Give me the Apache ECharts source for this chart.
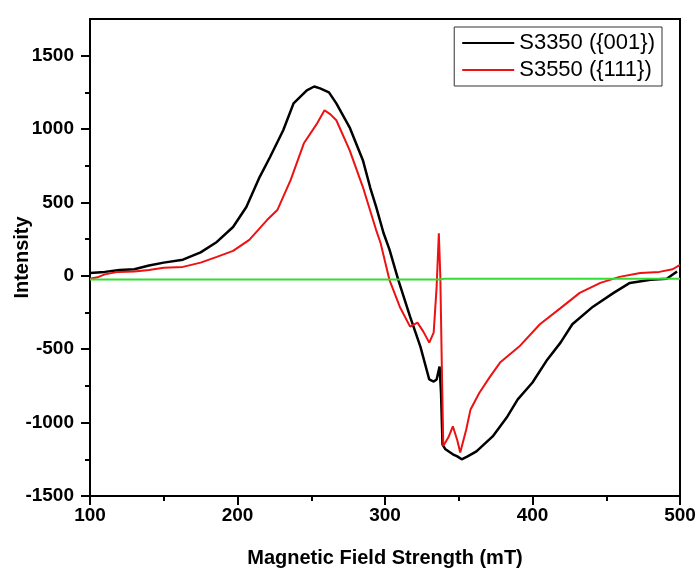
<!DOCTYPE html>
<html>
<head>
<meta charset="utf-8">
<script src="https://cdn.jsdelivr.net/npm/echarts@6/dist/echarts.min.js"></script>
<style>
  html, body { margin: 0; padding: 0; background: #fff; }
  #chartmain { width: 697px; height: 570px; }
</style>
</head>
<body>
<div id="chartmain"></div>
<script>
// S3350 ({001}) - black trace
var fieldBlack = [100, 110, 120, 130, 140, 150, 163, 175, 186, 197, 206, 215, 222, 231, 238, 247, 252, 256, 262, 267, 276, 285, 290, 294, 299, 303, 309, 317, 324, 330, 333, 335, 337, 338, 339, 341, 346, 349, 352, 356, 362, 373, 383, 390, 400, 410, 419, 427, 441, 455, 466, 480, 491, 498];
var intBlack = [20, 27, 40, 45, 70, 90, 110, 160, 231, 333, 469, 673, 808, 992, 1175, 1264, 1290, 1277, 1250, 1175, 1012, 788, 600, 470, 292, 180, -27, -278, -482, -706, -720, -706, -618, -800, -1150, -1182, -1216, -1230, -1250, -1230, -1196, -1094, -958, -842, -727, -571, -455, -330, -210, -116, -48, -27, -20, 30];

// S3550 ({111}) - red trace
var fieldRed = [100, 105, 110, 119, 130, 140, 150, 163, 175, 186, 197, 208, 220, 227, 236, 245, 254, 259, 263, 267, 276, 285, 294, 297, 303, 310, 317, 322, 326, 330, 333, 335, 336.5, 337.5, 338.5, 339.5, 343, 346, 349, 351, 355, 358, 364, 371, 378, 391, 405, 419, 432, 446, 459, 473, 486, 495, 500];
var intRed = [-20, -10, 10, 27, 30, 40, 55, 61, 90, 129, 170, 245, 380, 448, 652, 903, 1039, 1128, 1100, 1060, 856, 605, 312, 224, -27, -210, -346, -319, -380, -455, -387, -75, 290, 0, -600, -1160, -1100, -1025, -1120, -1204, -1050, -910, -797, -690, -591, -482, -330, -220, -116, -48, -7, 20, 27, 45, 75];

// green baseline
var fieldGreen = [100, 337, 340, 500];
var intGreen = [-25, -25, -20, -20];

var yMajor = [-1500, -1000, -500, 0, 500, 1000, 1500];
var yMinor = [-1250, -750, -250, 250, 750, 1250];

function zip(xs, ys) {
  var out = [];
  for (var i = 0; i < xs.length; i++) {
    out.push([xs[i], ys[i]]);
  }
  return out;
}

var font = 'Liberation Sans, Arial, sans-serif';

var option = {
  animation: false,
  backgroundColor: '#fff',
  grid: {
    left: 90, right: 17, top: 19, bottom: 74,
    outerBoundsMode: 'none',
    containLabel: false,
    show: true, borderColor: '#000', borderWidth: 2
  },
  legend: {
    orient: 'vertical',
    right: 35, top: 27,
    data: ['S3350 ({001})', 'S3550 ({111})'],
    icon: 'rect',
    itemWidth: 52, itemHeight: 2,
    itemGap: 5,
    padding: [5, 7, 5, 8],
    borderColor: '#333', borderWidth: 1,
    textStyle: { fontFamily: font, fontSize: 22, color: '#000' }
  },
  xAxis: {
    type: 'value',
    min: 100, max: 500, interval: 100,
    name: 'Magnetic Field Strength (mT)',
    nameLocation: 'middle', nameGap: 52,
    nameMoveOverlap: false,
    nameTextStyle: { fontFamily: font, fontSize: 20, fontWeight: 'bold', color: '#000' },
    axisLine: { onZero: false, lineStyle: { color: '#000', width: 2 } },
    axisTick: { length: 9, lineStyle: { color: '#000', width: 2 } },
    minorTick: { show: true, splitNumber: 2, length: 5, lineStyle: { color: '#000', width: 2 } },
    axisLabel: { margin: 10, fontFamily: font, fontSize: 19, fontWeight: 'bold', color: '#000' },
    splitLine: { show: false }
  },
  yAxis: [{
    type: 'value',
    min: -1500, max: 1750,
    name: 'Intensity',
    nameLocation: 'middle', nameGap: 58,
    nameMoveOverlap: false,
    nameTextStyle: { fontFamily: font, fontSize: 20, fontWeight: 'bold', color: '#000' },
    axisLine: { onZero: false, lineStyle: { color: '#000', width: 2 } },
    axisTick: { length: 9, customValues: yMajor, lineStyle: { color: '#000', width: 2 } },
    axisLabel: {
      margin: 16, customValues: yMajor,
      formatter: function (v) { return String(v); },
      fontFamily: font, fontSize: 19, fontWeight: 'bold', color: '#000'
    },
    splitLine: { show: false }
  }, {
    type: 'value',
    position: 'left',
    min: -1500, max: 1750,
    axisLine: { show: false, onZero: false },
    axisTick: { length: 5, customValues: yMinor, lineStyle: { color: '#000', width: 2 } },
    axisLabel: { show: false },
    splitLine: { show: false }
  }],
  series: [{
    name: 'S3350 ({001})',
    type: 'line',
    data: zip(fieldBlack, intBlack),
    showSymbol: false,
    color: '#000',
    lineStyle: { color: '#000', width: 2.5 }
  }, {
    name: 'S3550 ({111})',
    type: 'line',
    data: zip(fieldRed, intRed),
    showSymbol: false,
    color: '#ee1111',
    lineStyle: { color: '#ee1111', width: 2 }
  }, {
    name: 'baseline',
    type: 'line',
    data: zip(fieldGreen, intGreen),
    showSymbol: false,
    color: '#33dd33',
    lineStyle: { color: '#33dd33', width: 2 }
  }]
};

var myChart = echarts.init(document.getElementById('chartmain'));
myChart.setOption(option);
</script>
</body>
</html>
